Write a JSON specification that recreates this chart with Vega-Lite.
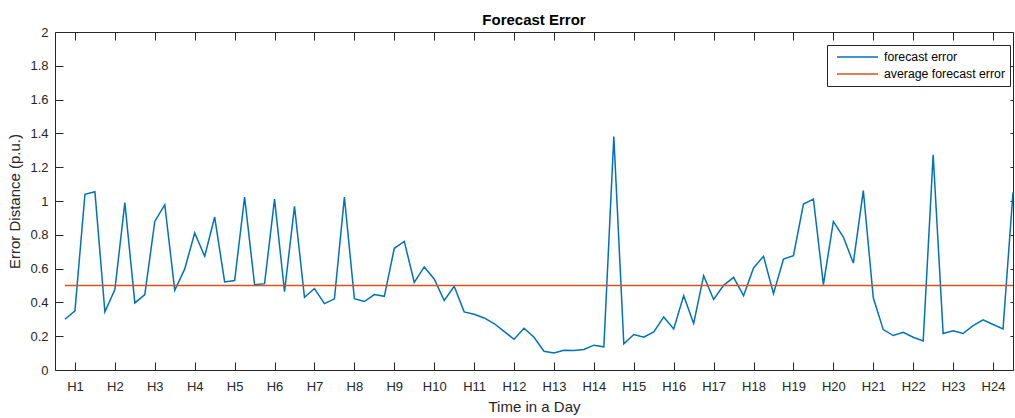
{
  "$schema": "https://vega.github.io/schema/vega-lite/v6.json",
  "autosize": {"type": "none"},
  "padding": {"left": 55, "top": 32, "right": 2, "bottom": 48},
  "width": 958,
  "height": 338,
  "background": "white",
  "title": {
    "text": "Forecast Error",
    "font": "Liberation Sans",
    "fontSize": 15,
    "fontWeight": "bold",
    "color": "black",
    "anchor": "middle",
    "offset": -2
  },
  "datasets": {
    "errors": [
      {"t": 1, "err": 0.30}, {"t": 2, "err": 0.35}, {"t": 3, "err": 1.04}, {"t": 4, "err": 1.055},
      {"t": 5, "err": 0.345}, {"t": 6, "err": 0.476}, {"t": 7, "err": 0.99}, {"t": 8, "err": 0.397},
      {"t": 9, "err": 0.446}, {"t": 10, "err": 0.879}, {"t": 11, "err": 0.978}, {"t": 12, "err": 0.472},
      {"t": 13, "err": 0.598}, {"t": 14, "err": 0.811}, {"t": 15, "err": 0.673}, {"t": 16, "err": 0.905},
      {"t": 17, "err": 0.521}, {"t": 18, "err": 0.529}, {"t": 19, "err": 1.023}, {"t": 20, "err": 0.505},
      {"t": 21, "err": 0.511}, {"t": 22, "err": 1.011}, {"t": 23, "err": 0.464}, {"t": 24, "err": 0.968},
      {"t": 25, "err": 0.430}, {"t": 26, "err": 0.482}, {"t": 27, "err": 0.393}, {"t": 28, "err": 0.421},
      {"t": 29, "err": 1.023}, {"t": 30, "err": 0.422}, {"t": 31, "err": 0.405}, {"t": 32, "err": 0.446},
      {"t": 33, "err": 0.436}, {"t": 34, "err": 0.720}, {"t": 35, "err": 0.761}, {"t": 36, "err": 0.519},
      {"t": 37, "err": 0.610}, {"t": 38, "err": 0.539}, {"t": 39, "err": 0.411}, {"t": 40, "err": 0.495},
      {"t": 41, "err": 0.344}, {"t": 42, "err": 0.330}, {"t": 43, "err": 0.308}, {"t": 44, "err": 0.275},
      {"t": 45, "err": 0.229}, {"t": 46, "err": 0.182}, {"t": 47, "err": 0.247}, {"t": 48, "err": 0.194},
      {"t": 49, "err": 0.111}, {"t": 50, "err": 0.101}, {"t": 51, "err": 0.117}, {"t": 52, "err": 0.115},
      {"t": 53, "err": 0.121}, {"t": 54, "err": 0.147}, {"t": 55, "err": 0.137}, {"t": 56, "err": 1.381},
      {"t": 57, "err": 0.155}, {"t": 58, "err": 0.210}, {"t": 59, "err": 0.194}, {"t": 60, "err": 0.226},
      {"t": 61, "err": 0.314}, {"t": 62, "err": 0.243}, {"t": 63, "err": 0.440}, {"t": 64, "err": 0.275},
      {"t": 65, "err": 0.558}, {"t": 66, "err": 0.417}, {"t": 67, "err": 0.501}, {"t": 68, "err": 0.548},
      {"t": 69, "err": 0.440}, {"t": 70, "err": 0.604}, {"t": 71, "err": 0.673}, {"t": 72, "err": 0.452},
      {"t": 73, "err": 0.657}, {"t": 74, "err": 0.677}, {"t": 75, "err": 0.982}, {"t": 76, "err": 1.011},
      {"t": 77, "err": 0.505}, {"t": 78, "err": 0.879}, {"t": 79, "err": 0.787}, {"t": 80, "err": 0.633},
      {"t": 81, "err": 1.061}, {"t": 82, "err": 0.427}, {"t": 83, "err": 0.239}, {"t": 84, "err": 0.204},
      {"t": 85, "err": 0.223}, {"t": 86, "err": 0.194}, {"t": 87, "err": 0.172}, {"t": 88, "err": 1.273},
      {"t": 89, "err": 0.216}, {"t": 90, "err": 0.232}, {"t": 91, "err": 0.216}, {"t": 92, "err": 0.263},
      {"t": 93, "err": 0.297}, {"t": 94, "err": 0.269}, {"t": 95, "err": 0.243}, {"t": 96, "err": 1.051}
    ],
    "average": [
      {"t": 1, "avg": 0.5},
      {"t": 96, "avg": 0.5}
    ]
  },
  "config": {
    "view": {"stroke": null},
    "axis": {
      "labelFont": "Liberation Sans",
      "labelFontSize": 13,
      "labelColor": "#262626",
      "titleFont": "Liberation Sans",
      "titleFontSize": 15,
      "titleFontWeight": "normal",
      "titleColor": "#262626",
      "domainColor": "#262626",
      "domainWidth": 1,
      "tickColor": "#262626",
      "tickWidth": 1,
      "grid": false
    }
  },
  "resolve": {"axis": {"x": "independent", "y": "independent"}},
  "layer": [
    {
      "data": {"name": "errors"},
      "mark": {"type": "line", "strokeWidth": 1.5},
      "encoding": {
        "x": {
          "field": "t",
          "type": "quantitative",
          "scale": {"domain": [0, 96], "nice": false, "zero": false},
          "axis": {
            "orient": "bottom",
            "title": "Time in a Day",
            "values": [2, 6, 10, 14, 18, 22, 26, 30, 34, 38, 42, 46, 50, 54, 58, 62, 66, 70, 74, 78, 82, 86, 90, 94],
            "labelExpr": "'H' + ((datum.value + 2) / 4)",
            "tickSize": -8,
            "labelPadding": 18,
            "titlePadding": 6
          }
        },
        "y": {
          "field": "err",
          "type": "quantitative",
          "scale": {"domain": [0, 2], "nice": false},
          "axis": {
            "orient": "left",
            "title": "Error Distance (p.u.)",
            "values": [0, 0.2, 0.4, 0.6, 0.8, 1, 1.2, 1.4, 1.6, 1.8, 2],
            "format": "~g",
            "tickSize": -8,
            "labelPadding": 15,
            "titlePadding": 7
          }
        },
        "color": {
          "datum": "forecast error",
          "type": "nominal",
          "scale": {
            "domain": ["forecast error", "average forecast error"],
            "range": ["#0072BD", "#D95319"]
          },
          "legend": {
            "title": null,
            "orient": "none",
            "legendX": 772,
            "legendY": 13,
            "symbolType": "stroke",
            "symbolSize": 1681,
            "symbolStrokeWidth": 1.5,
            "symbolOffset": 4,
            "labelFont": "Liberation Sans",
            "labelFontSize": 12.3,
            "labelColor": "black",
            "labelOffset": 5,
            "clipHeight": 14,
            "rowPadding": 3,
            "padding": 5,
            "strokeColor": "#262626",
            "fillColor": "white"
          }
        }
      }
    },
    {
      "data": {"name": "average"},
      "mark": {"type": "line", "strokeWidth": 1.5},
      "encoding": {
        "x": {
          "field": "t",
          "type": "quantitative",
          "axis": {
            "orient": "top",
            "title": null,
            "labels": false,
            "values": [2, 6, 10, 14, 18, 22, 26, 30, 34, 38, 42, 46, 50, 54, 58, 62, 66, 70, 74, 78, 82, 86, 90, 94],
            "tickSize": -8
          }
        },
        "y": {
          "field": "avg",
          "type": "quantitative",
          "axis": {
            "orient": "right",
            "title": null,
            "labels": false,
            "values": [0, 0.2, 0.4, 0.6, 0.8, 1, 1.2, 1.4, 1.6, 1.8, 2],
            "tickSize": -3
          }
        },
        "color": {"datum": "average forecast error", "type": "nominal"}
      }
    }
  ]
}
